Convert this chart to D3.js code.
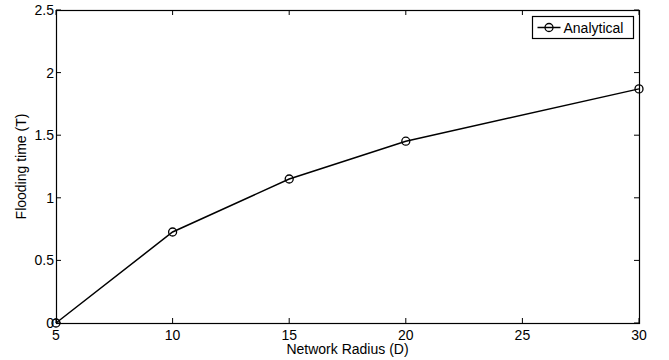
<!DOCTYPE html>
<html>
<head>
<meta charset="utf-8">
<script src="https://cdn.jsdelivr.net/npm/d3@7"></script>
<style>
  body { margin: 0; background: #fff; }
  text { font-family: "Liberation Sans", Arial, sans-serif; fill: #000; }
</style>
</head>
<body>
<script>
// data
const radius = [5, 10, 15, 20, 30];
const floodTime = [0, 0.727, 1.15, 1.452, 1.87];
const xTicks = [5, 10, 15, 20, 25, 30];
const yTicks = [0, 0.5, 1, 1.5, 2, 2.5];
const yTickLabels = ["0", "0.5", "1", "1.5", "2", "2.5"];
const seriesName = "Analytical";

const width = 669, height = 360;
const margin = {left: 56, right: 30, top: 10, bottom: 37};
const fs = 14;

const svg = d3.select('body').append('svg').attr('width', width).attr('height', height);

const x = d3.scaleLinear().domain([5, 30]).range([margin.left, width - margin.right]);
const y = d3.scaleLinear().domain([0, 2.5]).range([height - margin.bottom, margin.top]);

const x0 = x.range()[0], x1 = x.range()[1];
const y0 = y.range()[0], y1 = y.range()[1];

// ticks (inside, on all four sides like matlab box)
const tickLen = 5;
const g = svg.append('g').attr('stroke', '#000').attr('stroke-width', 1);
xTicks.forEach(t => {
  g.append('line').attr('x1', x(t)).attr('x2', x(t)).attr('y1', y0).attr('y2', y0 - tickLen);
  g.append('line').attr('x1', x(t)).attr('x2', x(t)).attr('y1', y1).attr('y2', y1 + tickLen);
});
yTicks.forEach(t => {
  g.append('line').attr('x1', x0).attr('x2', x0 + tickLen).attr('y1', y(t)).attr('y2', y(t));
  g.append('line').attr('x1', x1).attr('x2', x1 - tickLen).attr('y1', y(t)).attr('y2', y(t));
});

// box
svg.append('rect')
  .attr('x', x0 + 0.5).attr('y', y1 + 0.5)
  .attr('width', x1 - x0).attr('height', y0 - y1)
  .attr('fill', 'none').attr('stroke', '#000').attr('stroke-width', 1.2);

// tick labels
svg.append('g').selectAll('text')
  .data(xTicks).enter().append('text')
  .attr('x', d => x(d)).attr('y', y0 + 17)
  .attr('text-anchor', 'middle').attr('font-size', fs)
  .text(d => d);

svg.append('g').selectAll('text')
  .data(yTicks).enter().append('text')
  .attr('x', x0 - 2).attr('y', d => y(d) + 5)
  .attr('text-anchor', 'end').attr('font-size', fs)
  .text((d, i) => yTickLabels[i]);

// axis titles
svg.append('text')
  .attr('x', (x0 + x1) / 2).attr('y', height - 6)
  .attr('text-anchor', 'middle').attr('font-size', fs)
  .text('Network Radius (D)');

svg.append('text')
  .attr('transform', `translate(26,${(y0 + y1) / 2}) rotate(-90)`)
  .attr('text-anchor', 'middle').attr('font-size', fs)
  .text('Flooding time (T)');

// the series
const pts = radius.map((r, i) => [r, floodTime[i]]);
const line = d3.line().x(d => x(d[0])).y(d => y(d[1]));

svg.append('path')
  .attr('d', line(pts))
  .attr('fill', 'none').attr('stroke', '#000').attr('stroke-width', 1.5);

svg.append('g').selectAll('circle')
  .data(pts).enter().append('circle')
  .attr('cx', d => x(d[0])).attr('cy', d => y(d[1])).attr('r', 4)
  .attr('fill', 'none').attr('stroke', '#000').attr('stroke-width', 1.3);

// legend
const lg = svg.append('g').attr('transform', 'translate(532.5,16.5)');
lg.append('rect').attr('width', 101).attr('height', 22)
  .attr('fill', '#fff').attr('stroke', '#000').attr('stroke-width', 1.2);
lg.append('line').attr('x1', 5).attr('x2', 28).attr('y1', 11).attr('y2', 11)
  .attr('stroke', '#000').attr('stroke-width', 1.5);
lg.append('circle').attr('cx', 16.5).attr('cy', 11).attr('r', 4)
  .attr('fill', 'none').attr('stroke', '#000').attr('stroke-width', 1.3);
lg.append('text').attr('x', 31).attr('y', 16).attr('font-size', fs).text(seriesName);
</script>
</body>
</html>
